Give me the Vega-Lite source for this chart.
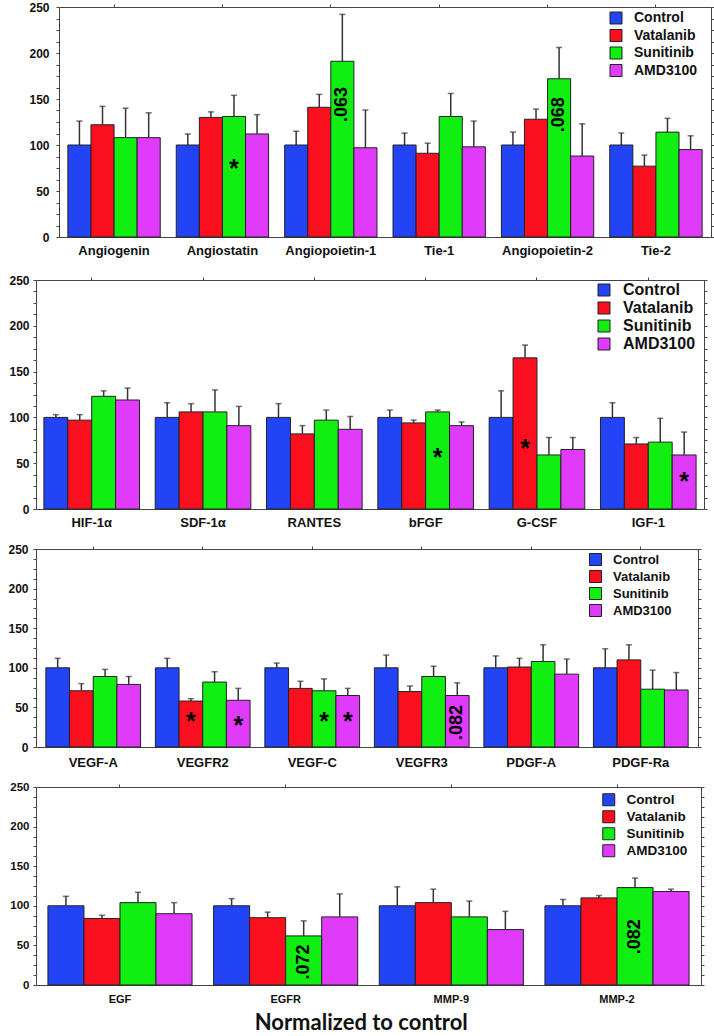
{
  "$schema": "https://vega.github.io/schema/vega-lite/v6.json",
  "padding": {"left": 7, "top": 0, "right": 0, "bottom": 0},
  "spacing": 0,
  "title": {"text": "Normalized to control", "orient": "bottom", "anchor": "middle", "font": "Lato", "fontSize": 22, "fontWeight": "bold", "color": "#111", "offset": 8},
  "config": {
    "view": {"stroke": null},
    "font": "Liberation Sans",
    "axis": {"labelFont": "Liberation Sans", "labelFontWeight": "bold", "labelColor": "#111", "domainColor": "#444", "tickColor": "#444", "grid": false, "title": null, "labelOverlap": false, "labelFlush": false},
    "legend": {"labelFont": "Liberation Sans", "labelFontWeight": "bold", "labelColor": "#111", "symbolType": "square", "symbolSize": 144, "symbolStrokeColor": "#222", "symbolStrokeWidth": 1, "symbolOpacity": 1, "labelOffset": 11, "padding": 0, "title": null, "orient": "none"}
  },
  "datasets": {
    "p1": [
      {"g":"Angiogenin","t":"Control","v":100,"e":126},
      {"g":"Angiogenin","t":"Vatalanib","v":122,"e":142},
      {"g":"Angiogenin","t":"Sunitinib","v":108,"e":140},
      {"g":"Angiogenin","t":"AMD3100","v":108,"e":135},
      {"g":"Angiostatin","t":"Control","v":100,"e":112},
      {"g":"Angiostatin","t":"Vatalanib","v":130,"e":136},
      {"g":"Angiostatin","t":"Sunitinib","v":131,"e":154,"star":"*","sy":80},
      {"g":"Angiostatin","t":"AMD3100","v":112,"e":133},
      {"g":"Angiopoietin-1","t":"Control","v":100,"e":115},
      {"g":"Angiopoietin-1","t":"Vatalanib","v":141,"e":155},
      {"g":"Angiopoietin-1","t":"Sunitinib","v":191,"e":242,"num":".063","ny":144},
      {"g":"Angiopoietin-1","t":"AMD3100","v":97,"e":138},
      {"g":"Tie-1","t":"Control","v":100,"e":113},
      {"g":"Tie-1","t":"Vatalanib","v":91,"e":102},
      {"g":"Tie-1","t":"Sunitinib","v":131,"e":156},
      {"g":"Tie-1","t":"AMD3100","v":98,"e":126},
      {"g":"Angiopoietin-2","t":"Control","v":100,"e":114},
      {"g":"Angiopoietin-2","t":"Vatalanib","v":128,"e":139},
      {"g":"Angiopoietin-2","t":"Sunitinib","v":172,"e":206,"num":".068","ny":133},
      {"g":"Angiopoietin-2","t":"AMD3100","v":88,"e":123},
      {"g":"Tie-2","t":"Control","v":100,"e":113},
      {"g":"Tie-2","t":"Vatalanib","v":77,"e":89},
      {"g":"Tie-2","t":"Sunitinib","v":114,"e":129},
      {"g":"Tie-2","t":"AMD3100","v":95,"e":110}
    ],
    "p2": [
      {"g":"HIF-1α","t":"Control","v":100,"e":103},
      {"g":"HIF-1α","t":"Vatalanib","v":97,"e":103},
      {"g":"HIF-1α","t":"Sunitinib","v":123,"e":129},
      {"g":"HIF-1α","t":"AMD3100","v":119,"e":132},
      {"g":"SDF-1α","t":"Control","v":100,"e":116},
      {"g":"SDF-1α","t":"Vatalanib","v":106,"e":115},
      {"g":"SDF-1α","t":"Sunitinib","v":106,"e":130},
      {"g":"SDF-1α","t":"AMD3100","v":91,"e":112},
      {"g":"RANTES","t":"Control","v":100,"e":115},
      {"g":"RANTES","t":"Vatalanib","v":82,"e":91},
      {"g":"RANTES","t":"Sunitinib","v":97,"e":108},
      {"g":"RANTES","t":"AMD3100","v":87,"e":101},
      {"g":"bFGF","t":"Control","v":100,"e":108},
      {"g":"bFGF","t":"Vatalanib","v":94,"e":97},
      {"g":"bFGF","t":"Sunitinib","v":106,"e":108,"star":"*","sy":62},
      {"g":"bFGF","t":"AMD3100","v":91,"e":95},
      {"g":"G-CSF","t":"Control","v":100,"e":129},
      {"g":"G-CSF","t":"Vatalanib","v":165,"e":179,"star":"*","sy":72},
      {"g":"G-CSF","t":"Sunitinib","v":59,"e":78},
      {"g":"G-CSF","t":"AMD3100","v":65,"e":78},
      {"g":"IGF-1","t":"Control","v":100,"e":116},
      {"g":"IGF-1","t":"Vatalanib","v":71,"e":78},
      {"g":"IGF-1","t":"Sunitinib","v":73,"e":99},
      {"g":"IGF-1","t":"AMD3100","v":59,"e":84,"star":"*","sy":36}
    ],
    "p3": [
      {"g":"VEGF-A","t":"Control","v":100,"e":112},
      {"g":"VEGF-A","t":"Vatalanib","v":71,"e":80},
      {"g":"VEGF-A","t":"Sunitinib","v":89,"e":98},
      {"g":"VEGF-A","t":"AMD3100","v":79,"e":89},
      {"g":"VEGFR2","t":"Control","v":100,"e":112},
      {"g":"VEGFR2","t":"Vatalanib","v":58,"e":61,"star":"*","sy":39},
      {"g":"VEGFR2","t":"Sunitinib","v":82,"e":95},
      {"g":"VEGFR2","t":"AMD3100","v":59,"e":74,"star":"*","sy":34},
      {"g":"VEGF-C","t":"Control","v":100,"e":106},
      {"g":"VEGF-C","t":"Vatalanib","v":74,"e":83},
      {"g":"VEGF-C","t":"Sunitinib","v":71,"e":86,"star":"*","sy":39},
      {"g":"VEGF-C","t":"AMD3100","v":65,"e":74,"star":"*","sy":39},
      {"g":"VEGFR3","t":"Control","v":100,"e":116},
      {"g":"VEGFR3","t":"Vatalanib","v":70,"e":77},
      {"g":"VEGFR3","t":"Sunitinib","v":89,"e":102},
      {"g":"VEGFR3","t":"AMD3100","v":65,"e":81,"num":".082","ny":31},
      {"g":"PDGF-A","t":"Control","v":100,"e":115},
      {"g":"PDGF-A","t":"Vatalanib","v":101,"e":112},
      {"g":"PDGF-A","t":"Sunitinib","v":108,"e":129},
      {"g":"PDGF-A","t":"AMD3100","v":92,"e":111},
      {"g":"PDGF-Ra","t":"Control","v":100,"e":124},
      {"g":"PDGF-Ra","t":"Vatalanib","v":110,"e":129},
      {"g":"PDGF-Ra","t":"Sunitinib","v":73,"e":97},
      {"g":"PDGF-Ra","t":"AMD3100","v":72,"e":94}
    ],
    "p4": [
      {"g":"EGF","t":"Control","v":100,"e":112},
      {"g":"EGF","t":"Vatalanib","v":84,"e":88},
      {"g":"EGF","t":"Sunitinib","v":104,"e":117},
      {"g":"EGF","t":"AMD3100","v":90,"e":104},
      {"g":"EGFR","t":"Control","v":100,"e":109},
      {"g":"EGFR","t":"Vatalanib","v":85,"e":92},
      {"g":"EGFR","t":"Sunitinib","v":62,"e":81,"num":".072","ny":29},
      {"g":"EGFR","t":"AMD3100","v":86,"e":115},
      {"g":"MMP-9","t":"Control","v":100,"e":124},
      {"g":"MMP-9","t":"Vatalanib","v":104,"e":121},
      {"g":"MMP-9","t":"Sunitinib","v":86,"e":106},
      {"g":"MMP-9","t":"AMD3100","v":70,"e":93},
      {"g":"MMP-2","t":"Control","v":100,"e":108},
      {"g":"MMP-2","t":"Vatalanib","v":110,"e":113},
      {"g":"MMP-2","t":"Sunitinib","v":123,"e":135,"num":".082","ny":61},
      {"g":"MMP-2","t":"AMD3100","v":118,"e":121}
    ]
  },
  "vconcat": [
    {
      "width": 675, "height": 230,
      "data": {"name": "p1"},
      "layer": [
        {"mark": {"type": "bar", "stroke": "#222", "strokeWidth": 1},
         "encoding": {
           "x": {"field": "g", "type": "nominal", "sort": ["Angiogenin","Angiostatin","Angiopoietin-1","Tie-1","Angiopoietin-2","Tie-2"], "scale": {"range": [23, 675], "paddingInner": 0.148, "paddingOuter": 0.082},
                 "axis": {"orient": "bottom", "labelAngle": 0, "ticks": false, "tickSize": 0, "labelPadding": 7, "labelFontSize": 13, "minExtent": 36, "maxExtent": 36}},
           "xOffset": {"field": "t", "type": "nominal", "sort": ["Control","Vatalanib","Sunitinib","AMD3100"], "scale": {"paddingInner": 0, "paddingOuter": 0}},
           "y": {"field": "v", "type": "quantitative", "scale": {"domain": [0, 250], "nice": false},
                 "axis": {"orient": "left", "offset": -23, "values": [0,12.5,25,37.5,50,62.5,75,87.5,100,112.5,125,137.5,150,162.5,175,187.5,200,212.5,225,237.5,250], "labelExpr": "datum.value % 50 === 0 ? datum.label : ''", "tickSize": 3, "labelPadding": 7, "labelFontSize": 12, "minExtent": 28, "maxExtent": 28}},
           "color": {"field": "t", "type": "nominal", "scale": {"domain": ["Control","Vatalanib","Sunitinib","AMD3100"], "range": ["#2244F4","#FA0F1E","#11EE11","#E03BFA"]},
                     "legend": {"legendX": 573, "legendY": 4, "labelFontSize": 14, "rowPadding": 1.5}}
         }},
        {"mark": {"type": "rule", "stroke": "#333", "strokeWidth": 1.5},
         "encoding": {
           "x": {"field": "g", "type": "nominal", "sort": ["Angiogenin","Angiostatin","Angiopoietin-1","Tie-1","Angiopoietin-2","Tie-2"],
                 "axis": {"orient": "top", "labels": false, "tickSize": 3, "minExtent": 7, "maxExtent": 7}},
           "xOffset": {"field": "t", "type": "nominal", "sort": ["Control","Vatalanib","Sunitinib","AMD3100"]},
           "y": {"field": "v", "type": "quantitative",
                 "axis": {"orient": "right", "labels": false, "values": [0,12.5,25,37.5,50,62.5,75,87.5,100,112.5,125,137.5,150,162.5,175,187.5,200,212.5,225,237.5,250], "tickSize": 3, "minExtent": 3, "maxExtent": 3}},
           "y2": {"field": "e"}
         }},
        {"mark": {"type": "tick", "orient": "horizontal", "size": 6, "thickness": 1.5, "color": "#333"},
         "encoding": {
           "x": {"field": "g", "type": "nominal", "sort": ["Angiogenin","Angiostatin","Angiopoietin-1","Tie-1","Angiopoietin-2","Tie-2"], "axis": null},
           "xOffset": {"field": "t", "type": "nominal", "sort": ["Control","Vatalanib","Sunitinib","AMD3100"]},
           "y": {"field": "e", "type": "quantitative", "axis": null}
         }},
        {"transform": [{"filter": "datum.star"}],
         "mark": {"type": "text", "fontSize": 25, "fontWeight": "bold", "color": "#000", "baseline": "middle", "align": "center", "dy": 6},
         "encoding": {
           "x": {"field": "g", "type": "nominal", "sort": ["Angiogenin","Angiostatin","Angiopoietin-1","Tie-1","Angiopoietin-2","Tie-2"], "axis": null},
           "xOffset": {"field": "t", "type": "nominal", "sort": ["Control","Vatalanib","Sunitinib","AMD3100"]},
           "y": {"field": "sy", "type": "quantitative", "axis": null},
           "text": {"field": "star"}
         }},
        {"transform": [{"filter": "datum.num"}],
         "mark": {"type": "text", "fontSize": 18, "fontWeight": "bold", "color": "#000", "baseline": "middle", "align": "center", "angle": 270},
         "encoding": {
           "x": {"field": "g", "type": "nominal", "sort": ["Angiogenin","Angiostatin","Angiopoietin-1","Tie-1","Angiopoietin-2","Tie-2"], "axis": null},
           "xOffset": {"field": "t", "type": "nominal", "sort": ["Control","Vatalanib","Sunitinib","AMD3100"]},
           "y": {"field": "ny", "type": "quantitative", "axis": null},
           "text": {"field": "num"}
         }}
      ],
      "resolve": {"axis": {"x": "independent", "y": "independent"}}
    },
    {
      "width": 668, "height": 229,
      "data": {"name": "p2"},
      "layer": [
        {"mark": {"type": "bar", "stroke": "#222", "strokeWidth": 1},
         "encoding": {
           "x": {"field": "g", "type": "nominal", "sort": ["HIF-1α","SDF-1α","RANTES","bFGF","G-CSF","IGF-1"], "scale": {"paddingInner": 0.141, "paddingOuter": 0.071},
                 "axis": {"orient": "bottom", "labelAngle": 0, "ticks": false, "tickSize": 0, "labelPadding": 7, "labelFontSize": 13, "minExtent": 33, "maxExtent": 33}},
           "xOffset": {"field": "t", "type": "nominal", "sort": ["Control","Vatalanib","Sunitinib","AMD3100"], "scale": {"paddingInner": 0, "paddingOuter": 0}},
           "y": {"field": "v", "type": "quantitative", "scale": {"domain": [0, 250], "nice": false},
                 "axis": {"orient": "left", "values": [0,12.5,25,37.5,50,62.5,75,87.5,100,112.5,125,137.5,150,162.5,175,187.5,200,212.5,225,237.5,250], "labelExpr": "datum.value % 50 === 0 ? datum.label : ''", "tickSize": 3, "labelPadding": 4, "labelFontSize": 12, "minExtent": 28, "maxExtent": 28}},
           "color": {"field": "t", "type": "nominal", "scale": {"domain": ["Control","Vatalanib","Sunitinib","AMD3100"], "range": ["#2244F4","#FA0F1E","#11EE11","#E03BFA"]},
                     "legend": {"legendX": 560, "legendY": 2, "labelFontSize": 16, "rowPadding": 2}}
         }},
        {"mark": {"type": "rule", "stroke": "#333", "strokeWidth": 1.5},
         "encoding": {
           "x": {"field": "g", "type": "nominal", "sort": ["HIF-1α","SDF-1α","RANTES","bFGF","G-CSF","IGF-1"],
                 "axis": {"orient": "top", "labels": false, "tickSize": 3, "minExtent": 7, "maxExtent": 7}},
           "xOffset": {"field": "t", "type": "nominal", "sort": ["Control","Vatalanib","Sunitinib","AMD3100"]},
           "y": {"field": "v", "type": "quantitative",
                 "axis": {"orient": "right", "labels": false, "values": [0,12.5,25,37.5,50,62.5,75,87.5,100,112.5,125,137.5,150,162.5,175,187.5,200,212.5,225,237.5,250], "tickSize": 3, "minExtent": 3, "maxExtent": 3}},
           "y2": {"field": "e"}
         }},
        {"mark": {"type": "tick", "orient": "horizontal", "size": 6, "thickness": 1.5, "color": "#333"},
         "encoding": {
           "x": {"field": "g", "type": "nominal", "sort": ["HIF-1α","SDF-1α","RANTES","bFGF","G-CSF","IGF-1"], "axis": null},
           "xOffset": {"field": "t", "type": "nominal", "sort": ["Control","Vatalanib","Sunitinib","AMD3100"]},
           "y": {"field": "e", "type": "quantitative", "axis": null}
         }},
        {"transform": [{"filter": "datum.star"}],
         "mark": {"type": "text", "fontSize": 25, "fontWeight": "bold", "color": "#000", "baseline": "middle", "align": "center", "dy": 6},
         "encoding": {
           "x": {"field": "g", "type": "nominal", "sort": ["HIF-1α","SDF-1α","RANTES","bFGF","G-CSF","IGF-1"], "axis": null},
           "xOffset": {"field": "t", "type": "nominal", "sort": ["Control","Vatalanib","Sunitinib","AMD3100"]},
           "y": {"field": "sy", "type": "quantitative", "axis": null},
           "text": {"field": "star"}
         }}
      ],
      "resolve": {"axis": {"x": "independent", "y": "independent"}}
    },
    {
      "width": 662, "height": 198,
      "data": {"name": "p3"},
      "layer": [
        {"mark": {"type": "bar", "stroke": "#222", "strokeWidth": 1},
         "encoding": {
           "x": {"field": "g", "type": "nominal", "sort": ["VEGF-A","VEGFR2","VEGF-C","VEGFR3","PDGF-A","PDGF-Ra"], "scale": {"paddingInner": 0.135, "paddingOuter": 0.09},
                 "axis": {"orient": "bottom", "labelAngle": 0, "ticks": false, "tickSize": 0, "labelPadding": 9, "labelFontSize": 13, "minExtent": 33, "maxExtent": 33}},
           "xOffset": {"field": "t", "type": "nominal", "sort": ["Control","Vatalanib","Sunitinib","AMD3100"], "scale": {"paddingInner": 0, "paddingOuter": 0}},
           "y": {"field": "v", "type": "quantitative", "scale": {"domain": [0, 250], "nice": false},
                 "axis": {"orient": "left", "values": [0,12.5,25,37.5,50,62.5,75,87.5,100,112.5,125,137.5,150,162.5,175,187.5,200,212.5,225,237.5,250], "labelExpr": "datum.value % 50 === 0 ? datum.label : ''", "tickSize": 3, "labelPadding": 5, "labelFontSize": 12, "minExtent": 28, "maxExtent": 28}},
           "color": {"field": "t", "type": "nominal", "scale": {"domain": ["Control","Vatalanib","Sunitinib","AMD3100"], "range": ["#2244F4","#FA0F1E","#11EE11","#E03BFA"]},
                     "legend": {"legendX": 553, "legendY": 4, "labelFontSize": 13, "rowPadding": 0}}
         }},
        {"mark": {"type": "rule", "stroke": "#333", "strokeWidth": 1.5},
         "encoding": {
           "x": {"field": "g", "type": "nominal", "sort": ["VEGF-A","VEGFR2","VEGF-C","VEGFR3","PDGF-A","PDGF-Ra"],
                 "axis": {"orient": "top", "labels": false, "tickSize": 3, "minExtent": 7, "maxExtent": 7}},
           "xOffset": {"field": "t", "type": "nominal", "sort": ["Control","Vatalanib","Sunitinib","AMD3100"]},
           "y": {"field": "v", "type": "quantitative",
                 "axis": {"orient": "right", "labels": false, "values": [0,12.5,25,37.5,50,62.5,75,87.5,100,112.5,125,137.5,150,162.5,175,187.5,200,212.5,225,237.5,250], "tickSize": 3, "minExtent": 3, "maxExtent": 3}},
           "y2": {"field": "e"}
         }},
        {"mark": {"type": "tick", "orient": "horizontal", "size": 6, "thickness": 1.5, "color": "#333"},
         "encoding": {
           "x": {"field": "g", "type": "nominal", "sort": ["VEGF-A","VEGFR2","VEGF-C","VEGFR3","PDGF-A","PDGF-Ra"], "axis": null},
           "xOffset": {"field": "t", "type": "nominal", "sort": ["Control","Vatalanib","Sunitinib","AMD3100"]},
           "y": {"field": "e", "type": "quantitative", "axis": null}
         }},
        {"transform": [{"filter": "datum.star"}],
         "mark": {"type": "text", "fontSize": 25, "fontWeight": "bold", "color": "#000", "baseline": "middle", "align": "center", "dy": 6},
         "encoding": {
           "x": {"field": "g", "type": "nominal", "sort": ["VEGF-A","VEGFR2","VEGF-C","VEGFR3","PDGF-A","PDGF-Ra"], "axis": null},
           "xOffset": {"field": "t", "type": "nominal", "sort": ["Control","Vatalanib","Sunitinib","AMD3100"]},
           "y": {"field": "sy", "type": "quantitative", "axis": null},
           "text": {"field": "star"}
         }},
        {"transform": [{"filter": "datum.num"}],
         "mark": {"type": "text", "fontSize": 18, "fontWeight": "bold", "color": "#000", "baseline": "middle", "align": "center", "angle": 270},
         "encoding": {
           "x": {"field": "g", "type": "nominal", "sort": ["VEGF-A","VEGFR2","VEGF-C","VEGFR3","PDGF-A","PDGF-Ra"], "axis": null},
           "xOffset": {"field": "t", "type": "nominal", "sort": ["Control","Vatalanib","Sunitinib","AMD3100"]},
           "y": {"field": "ny", "type": "quantitative", "axis": null},
           "text": {"field": "num"}
         }}
      ],
      "resolve": {"axis": {"x": "independent", "y": "independent"}}
    },
    {
      "width": 665, "height": 198,
      "data": {"name": "p4"},
      "layer": [
        {"mark": {"type": "bar", "stroke": "#222", "strokeWidth": 1},
         "encoding": {
           "x": {"field": "g", "type": "nominal", "sort": ["EGF","EGFR","MMP-9","MMP-2"], "scale": {"paddingInner": 0.13, "paddingOuter": 0.072},
                 "axis": {"orient": "bottom", "labelAngle": 0, "ticks": false, "tickSize": 0, "labelPadding": 8, "labelFontSize": 11, "minExtent": 20, "maxExtent": 20}},
           "xOffset": {"field": "t", "type": "nominal", "sort": ["Control","Vatalanib","Sunitinib","AMD3100"], "scale": {"paddingInner": 0, "paddingOuter": 0}},
           "y": {"field": "v", "type": "quantitative", "scale": {"domain": [0, 250], "nice": false},
                 "axis": {"orient": "left", "values": [0,12.5,25,37.5,50,62.5,75,87.5,100,112.5,125,137.5,150,162.5,175,187.5,200,212.5,225,237.5,250], "labelExpr": "datum.value % 50 === 0 ? datum.label : ''", "tickSize": 3, "labelPadding": 4, "labelFontSize": 11.5, "minExtent": 28, "maxExtent": 28}},
           "color": {"field": "t", "type": "nominal", "scale": {"domain": ["Control","Vatalanib","Sunitinib","AMD3100"], "range": ["#2244F4","#FA0F1E","#11EE11","#E03BFA"]},
                     "legend": {"legendX": 566, "legendY": 6, "labelFontSize": 13.5, "rowPadding": 0}}
         }},
        {"mark": {"type": "rule", "stroke": "#333", "strokeWidth": 1.5},
         "encoding": {
           "x": {"field": "g", "type": "nominal", "sort": ["EGF","EGFR","MMP-9","MMP-2"],
                 "axis": {"orient": "top", "labels": false, "tickSize": 3, "minExtent": 7, "maxExtent": 7}},
           "xOffset": {"field": "t", "type": "nominal", "sort": ["Control","Vatalanib","Sunitinib","AMD3100"]},
           "y": {"field": "v", "type": "quantitative",
                 "axis": {"orient": "right", "labels": false, "values": [0,12.5,25,37.5,50,62.5,75,87.5,100,112.5,125,137.5,150,162.5,175,187.5,200,212.5,225,237.5,250], "tickSize": 3, "minExtent": 3, "maxExtent": 3}},
           "y2": {"field": "e"}
         }},
        {"mark": {"type": "tick", "orient": "horizontal", "size": 6, "thickness": 1.5, "color": "#333"},
         "encoding": {
           "x": {"field": "g", "type": "nominal", "sort": ["EGF","EGFR","MMP-9","MMP-2"], "axis": null},
           "xOffset": {"field": "t", "type": "nominal", "sort": ["Control","Vatalanib","Sunitinib","AMD3100"]},
           "y": {"field": "e", "type": "quantitative", "axis": null}
         }},
        {"transform": [{"filter": "datum.num"}],
         "mark": {"type": "text", "fontSize": 18, "fontWeight": "bold", "color": "#000", "baseline": "middle", "align": "center", "angle": 270},
         "encoding": {
           "x": {"field": "g", "type": "nominal", "sort": ["EGF","EGFR","MMP-9","MMP-2"], "axis": null},
           "xOffset": {"field": "t", "type": "nominal", "sort": ["Control","Vatalanib","Sunitinib","AMD3100"]},
           "y": {"field": "ny", "type": "quantitative", "axis": null},
           "text": {"field": "num"}
         }}
      ],
      "resolve": {"axis": {"x": "independent", "y": "independent"}}
    }
  ],
  "resolve": {"scale": {"x": "independent", "y": "independent", "xOffset": "independent"}, "legend": {"color": "independent"}}
}
